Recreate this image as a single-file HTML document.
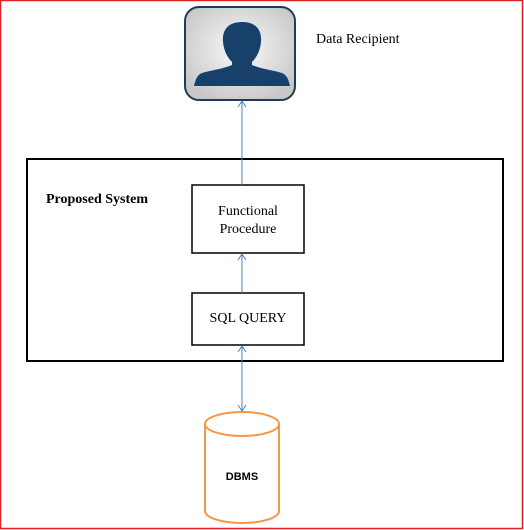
<!DOCTYPE html>
<html><head><style>
body{margin:0;width:524px;height:530px;background:#fff;overflow:hidden;position:relative;font-family:"Liberation Serif",serif}
.t{position:absolute;font-size:14px;color:#000}
</style></head><body>
<svg width="524" height="530" style="position:absolute;left:0;top:0">
<defs>
<radialGradient id="g" cx="50%" cy="45%" r="60%"><stop offset="0" stop-color="#fafafa"/><stop offset="1" stop-color="#c8c8c8"/></radialGradient>
<marker id="a" markerWidth="10" markerHeight="10" refX="8" refY="5" orient="auto-start-reverse" markerUnits="userSpaceOnUse"><path d="M2,1 L8,5 L2,9" fill="none" stroke="#4f81bd" stroke-width="1"/></marker>
</defs>
<rect x="0.5" y="0.5" width="522" height="528" fill="none" stroke="#d22" stroke-width="1.5"/>
<rect x="185" y="7" width="110" height="93" rx="14" fill="url(#g)" stroke="#1f3b57" stroke-width="2"/>
<path d="M242,22 C228,22 222,30 223,42 C224,52 228,58 232,62 L232,65 C220,70 205,71 200,74 C196,77 195,82 194,86 L290,86 C289,82 288,77 284,74 C279,71 264,70 252,65 L252,62 C256,58 260,52 261,42 C262,30 256,22 242,22 Z" fill="#17416a"/>
<rect x="27" y="159" width="476" height="202" fill="none" stroke="#000" stroke-width="2"/>
<rect x="192" y="185" width="112" height="68" fill="#fff" stroke="#000" stroke-width="1.5"/>
<rect x="192" y="293" width="112" height="52" fill="#fff" stroke="#000" stroke-width="1.5"/>
<line x1="242" y1="185" x2="242" y2="101" stroke="#4f81bd" marker-end="url(#a)"/>
<line x1="242" y1="293" x2="242" y2="254" stroke="#4f81bd" marker-end="url(#a)"/>
<line x1="242" y1="346" x2="242" y2="411" stroke="#4f81bd" marker-start="url(#a)" marker-end="url(#a)"/>
<path d="M205,424 L205,511 A37,12 0 0 0 279,511 L279,424" fill="#fff" stroke="#f79646" stroke-width="2"/>
<ellipse cx="242" cy="424" rx="37" ry="12" fill="#fff" stroke="#f79646" stroke-width="2"/>
</svg>
<div class="t" style="left:316px;top:32px">Data Recipient</div>
<div class="t" style="left:46px;top:192px;font-weight:bold">Proposed System</div>
<div class="t" style="left:192px;top:203px;width:112px;text-align:center;line-height:18px">Functional<br>Procedure</div>
<div class="t" style="left:192px;top:311px;width:112px;text-align:center">SQL QUERY</div>
<div class="t" style="left:205px;top:471px;width:74px;text-align:center;font-family:'Liberation Sans',sans-serif;font-weight:bold;font-size:11px">DBMS</div>
</body></html>
